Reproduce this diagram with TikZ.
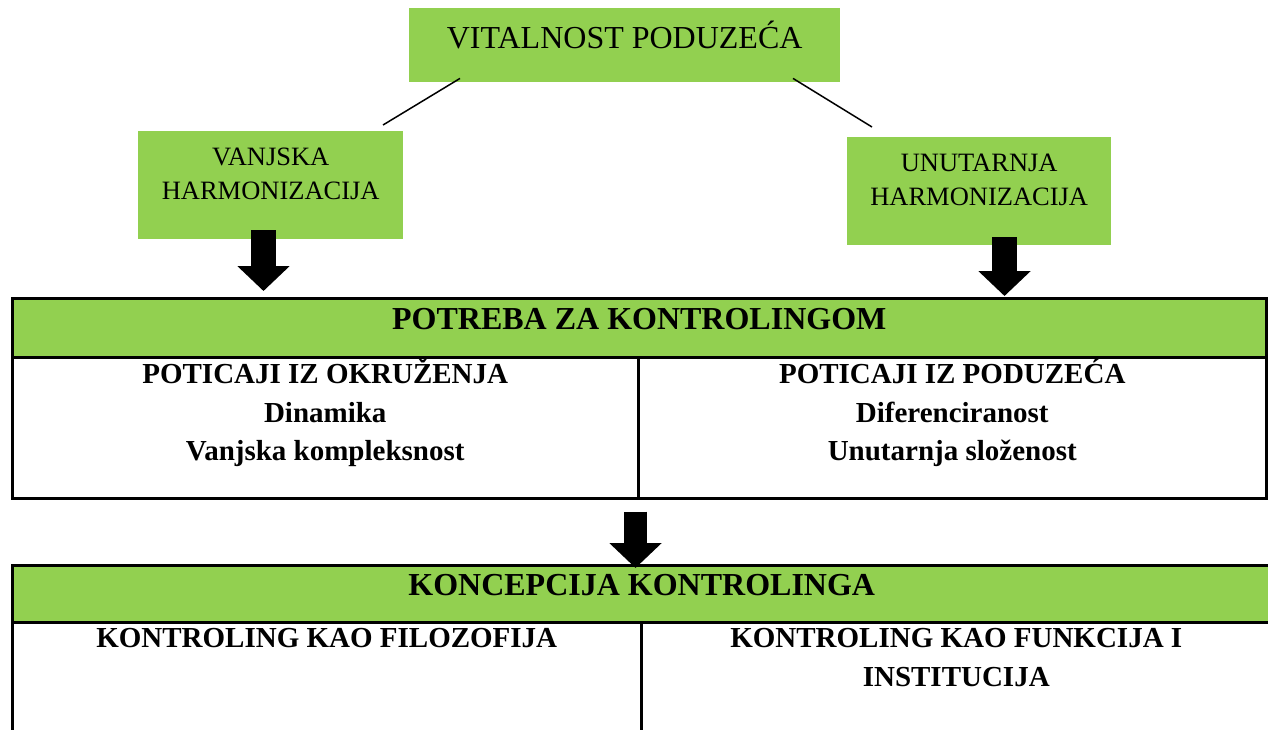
\documentclass[tikz,border=0pt]{standalone}
\usepackage{fontspec}
\setmainfont{Liberation Serif}
\usepackage{tikz}
\usetikzlibrary{arrows.meta, positioning}

\definecolor{boxgreen}{HTML}{92D050}

\tikzset{
  greenbox/.style={fill=boxgreen, inner sep=0pt, anchor=north west},
  tablecell/.style={draw, line width=2.5pt, inner sep=0pt, anchor=north west},
  tablehead/.style={tablecell, fill=boxgreen},
  toptext/.style={inner sep=0pt, anchor=base, font=\fontsize{32}{38}\selectfont},
  boxtext/.style={inner sep=0pt, anchor=base, align=center, font=\fontsize{26.5}{34}\selectfont},
  headtext/.style={inner sep=0pt, anchor=base, font=\fontsize{32}{38}\selectfont\bfseries},
  celltext/.style={inner sep=0pt, anchor=base, align=center, font=\fontsize{29}{38.5}\selectfont\bfseries},
  blockarrow/.style={line width=25pt, -{Triangle[length=25pt,width=51pt]}},
  thinline/.style={line width=1.5pt}
}

\begin{document}
\begin{tikzpicture}[x=1pt,y=-1pt]
  \clip (0,0) rectangle (1268,729);

  % green boxes on top
  \node[greenbox, minimum width=431pt, minimum height=74pt] (vitalnost) at (409,8) {};
  \node[greenbox, minimum width=265pt, minimum height=108pt] (vanjska) at (138,131) {};
  \node[greenbox, minimum width=264pt, minimum height=108pt] (unutarnja) at (847,137) {};

  % multi-line texts sit on the baseline of their last line
  \node[toptext] (vitalnosttxt) at ([yshift=-40pt]vitalnost.north) {VITALNOST PODUZEĆA};
  \node[boxtext] (vanjskatxt) at ([yshift=-68.5pt]vanjska.north) {VANJSKA\\HARMONIZACIJA};
  \node[boxtext] (unutarnjatxt) at ([yshift=-68.5pt]unutarnja.north) {UNUTARNJA\\HARMONIZACIJA};

  % first table
  \node[tablehead, minimum width=1254pt, minimum height=59pt] (potreba) at (11,297) {};
  \node[tablecell, minimum width=626pt, minimum height=141pt] (okruzenje) at (11,356) {};
  \node[tablecell, minimum width=628pt, minimum height=141pt] (poduzece) at (637,356) {};

  \node[headtext] (potrebatxt) at ([yshift=-32pt]potreba.north) {POTREBA ZA KONTROLINGOM};
  \node[celltext] (okruzenjetxt) at ([yshift=-104.5pt]okruzenje.north)
    {POTICAJI IZ OKRUŽENJA\\Dinamika\\Vanjska kompleksnost};
  \node[celltext] (poduzecetxt) at ([yshift=-104.5pt]poduzece.north)
    {POTICAJI IZ PODUZEĆA\\Diferenciranost\\Unutarnja složenost};

  % second table
  \node[tablehead, minimum width=1259pt, minimum height=57pt] (koncepcija) at (11,564) {};
  \node[tablecell, minimum width=629pt, minimum height=150pt] (filozofija) at (11,621) {};
  \node[tablecell, minimum width=630pt, minimum height=150pt] (funkcija) at (640,621) {};

  \node[headtext] (koncepcijatxt) at ([yshift=-31pt]koncepcija.north) {KONCEPCIJA KONTROLINGA};
  \node[celltext] (filozofijatxt) at ([yshift=-26.5pt]filozofija.north) {KONTROLING KAO FILOZOFIJA};
  \node[celltext, font=\fontsize{29}{39}\selectfont\bfseries] (funkcijatxt) at ([yshift=-65.5pt]funkcija.north)
    {KONTROLING KAO FUNKCIJA I\\INSTITUCIJA};

  % connectors
  \draw[thinline] ([xshift=51pt,yshift=4pt]vitalnost.south west) -- ([xshift=245pt,yshift=6pt]vanjska.north west);
  \draw[thinline] ([xshift=384pt,yshift=4pt]vitalnost.south west) -- ([xshift=25pt,yshift=10pt]unutarnja.north west);

  \draw[blockarrow] ([xshift=125.5pt,yshift=9pt]vanjska.south west) -- ([xshift=125.5pt,yshift=6pt]vanjska.south west |- potreba.north);
  \draw[blockarrow] ([xshift=157.5pt,yshift=8pt]unutarnja.south west) -- ([xshift=157.5pt,yshift=1pt]unutarnja.south west |- potreba.north);
  \draw[blockarrow, line width=23pt] ([xshift=-4pt,yshift=-12pt]okruzenje.south east) -- ([xshift=-4pt,yshift=-4pt]okruzenje.south east |- koncepcija.north);
\end{tikzpicture}
\end{document}
